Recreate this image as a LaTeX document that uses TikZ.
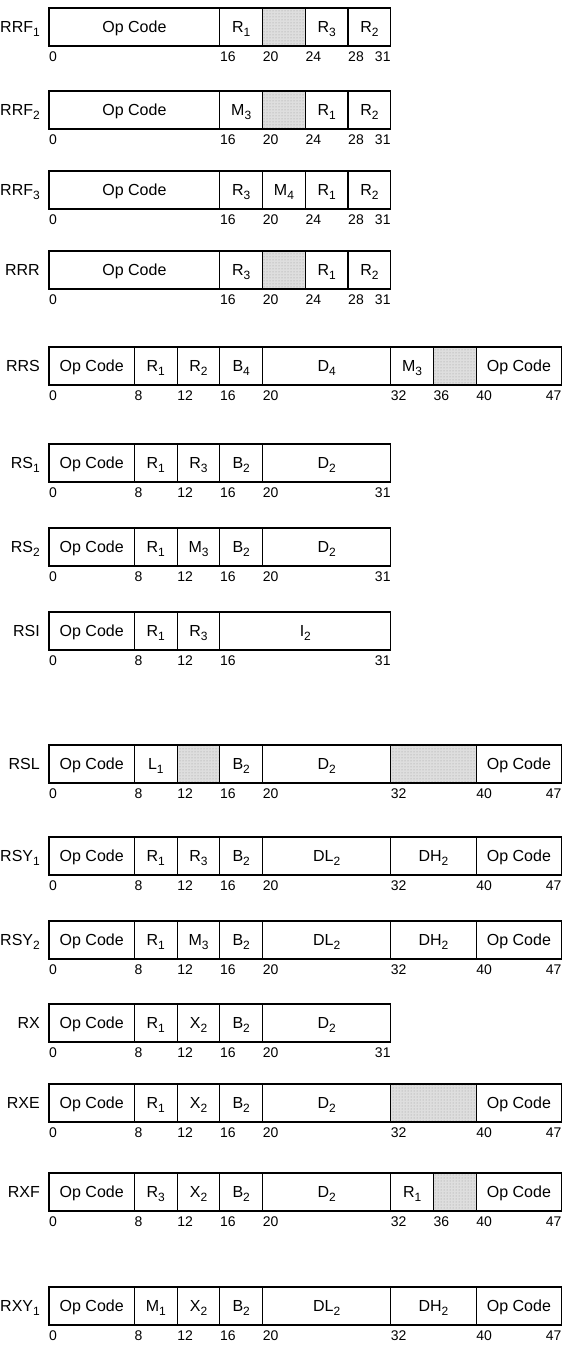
\documentclass[tikz,border=0pt]{standalone}
\usepackage{fontspec}
\setmainfont{Liberation Sans}
\usetikzlibrary{patterns}
\newcommand\sbx[1]{\raisebox{-3.5pt}{\fontsize{12}{12}\selectfont #1}}
\tikzset{
  cellbox/.style={draw, line width=1.2pt, inner sep=0pt, outer sep=0pt,
    minimum height=38pt, anchor=west, text height=11.5pt, text depth=0pt,
    font=\fontsize{16}{18}\selectfont},
  wc/.style={fill=white},
  sc/.style={preaction={fill=black!13}, pattern=dots, pattern color=black!40},
  rowlab/.style={anchor=east, inner sep=0pt, text height=11.5pt, text depth=0pt,
    font=\fontsize{16}{18}\selectfont},
  bitnum/.style={inner sep=0pt, font=\fontsize{14}{15}\selectfont},
}
\newcommand\fmtrow[5]{%
  \node[rowlab] (#1-lab) at ([xshift=-9pt]0,#2) {#3};
  \foreach \a/\b/\t/\s [count=\i] in {#4}{%
    \node[cellbox,\s,minimum width={(\b-\a)*10.68pt}] (#1-c\i) at (\a,#2) {\t};}
  \foreach \n [count=\j] in {#5}{%
    \ifnum\n=31 \node[bitnum,anchor=north east] (#1-n\j) at (32,#2+25) {\n};%
    \else\ifnum\n=47 \node[bitnum,anchor=north east] (#1-n\j) at (48,#2+25) {\n};%
    \else \node[bitnum,anchor=north west] (#1-n\j) at (\n,#2+25) {\n};\fi\fi}%
}
\begin{document}
\begin{tikzpicture}[x=10.68pt,y=-1pt]
\useasboundingbox (0pt,0pt) rectangle (562pt,-1352pt);
\begin{scope}[xshift=49pt]
\fmtrow{rrfa}{27}{RRF\sbx{1}}{0/16/Op Code/wc,16/20/R\sbx{1}/wc,20/24//sc,24/28/R\sbx{3}/wc,28/32/R\sbx{2}/wc}{0,16,20,24,28,31}
\fmtrow{rrfb}{110}{RRF\sbx{2}}{0/16/Op Code/wc,16/20/M\sbx{3}/wc,20/24//sc,24/28/R\sbx{1}/wc,28/32/R\sbx{2}/wc}{0,16,20,24,28,31}
\fmtrow{rrfc}{190}{RRF\sbx{3}}{0/16/Op Code/wc,16/20/R\sbx{3}/wc,20/24/M\sbx{4}/wc,24/28/R\sbx{1}/wc,28/32/R\sbx{2}/wc}{0,16,20,24,28,31}
\fmtrow{rrr}{270}{RRR}{0/16/Op Code/wc,16/20/R\sbx{3}/wc,20/24//sc,24/28/R\sbx{1}/wc,28/32/R\sbx{2}/wc}{0,16,20,24,28,31}
\fmtrow{rrs}{366}{RRS}{0/8/Op Code/wc,8/12/R\sbx{1}/wc,12/16/R\sbx{2}/wc,16/20/B\sbx{4}/wc,20/32/D\sbx{4}/wc,32/36/M\sbx{3}/wc,36/40//sc,40/48/Op Code/wc}{0,8,12,16,20,32,36,40,47}
\fmtrow{rsa}{463}{RS\sbx{1}}{0/8/Op Code/wc,8/12/R\sbx{1}/wc,12/16/R\sbx{3}/wc,16/20/B\sbx{2}/wc,20/32/D\sbx{2}/wc}{0,8,12,16,20,31}
\fmtrow{rsb}{547}{RS\sbx{2}}{0/8/Op Code/wc,8/12/R\sbx{1}/wc,12/16/M\sbx{3}/wc,16/20/B\sbx{2}/wc,20/32/D\sbx{2}/wc}{0,8,12,16,20,31}
\fmtrow{rsi}{631}{RSI}{0/8/Op Code/wc,8/12/R\sbx{1}/wc,12/16/R\sbx{3}/wc,16/32/I\sbx{2}/wc}{0,8,12,16,31}
\fmtrow{rsl}{764}{RSL}{0/8/Op Code/wc,8/12/L\sbx{1}/wc,12/16//sc,16/20/B\sbx{2}/wc,20/32/D\sbx{2}/wc,32/40//sc,40/48/Op Code/wc}{0,8,12,16,20,32,40,47}
\fmtrow{rsya}{856}{RSY\sbx{1}}{0/8/Op Code/wc,8/12/R\sbx{1}/wc,12/16/R\sbx{3}/wc,16/20/B\sbx{2}/wc,20/32/DL\sbx{2}/wc,32/40/DH\sbx{2}/wc,40/48/Op Code/wc}{0,8,12,16,20,32,40,47}
\fmtrow{rsyb}{940}{RSY\sbx{2}}{0/8/Op Code/wc,8/12/R\sbx{1}/wc,12/16/M\sbx{3}/wc,16/20/B\sbx{2}/wc,20/32/DL\sbx{2}/wc,32/40/DH\sbx{2}/wc,40/48/Op Code/wc}{0,8,12,16,20,32,40,47}
\fmtrow{rx}{1023}{RX}{0/8/Op Code/wc,8/12/R\sbx{1}/wc,12/16/X\sbx{2}/wc,16/20/B\sbx{2}/wc,20/32/D\sbx{2}/wc}{0,8,12,16,20,31}
\fmtrow{rxe}{1103}{RXE}{0/8/Op Code/wc,8/12/R\sbx{1}/wc,12/16/X\sbx{2}/wc,16/20/B\sbx{2}/wc,20/32/D\sbx{2}/wc,32/40//sc,40/48/Op Code/wc}{0,8,12,16,20,32,40,47}
\fmtrow{rxf}{1192}{RXF}{0/8/Op Code/wc,8/12/R\sbx{3}/wc,12/16/X\sbx{2}/wc,16/20/B\sbx{2}/wc,20/32/D\sbx{2}/wc,32/36/R\sbx{1}/wc,36/40//sc,40/48/Op Code/wc}{0,8,12,16,20,32,36,40,47}
\fmtrow{rxya}{1306}{RXY\sbx{1}}{0/8/Op Code/wc,8/12/M\sbx{1}/wc,12/16/X\sbx{2}/wc,16/20/B\sbx{2}/wc,20/32/DL\sbx{2}/wc,32/40/DH\sbx{2}/wc,40/48/Op Code/wc}{0,8,12,16,20,32,40,47}
\end{scope}
\end{tikzpicture}
\end{document}
